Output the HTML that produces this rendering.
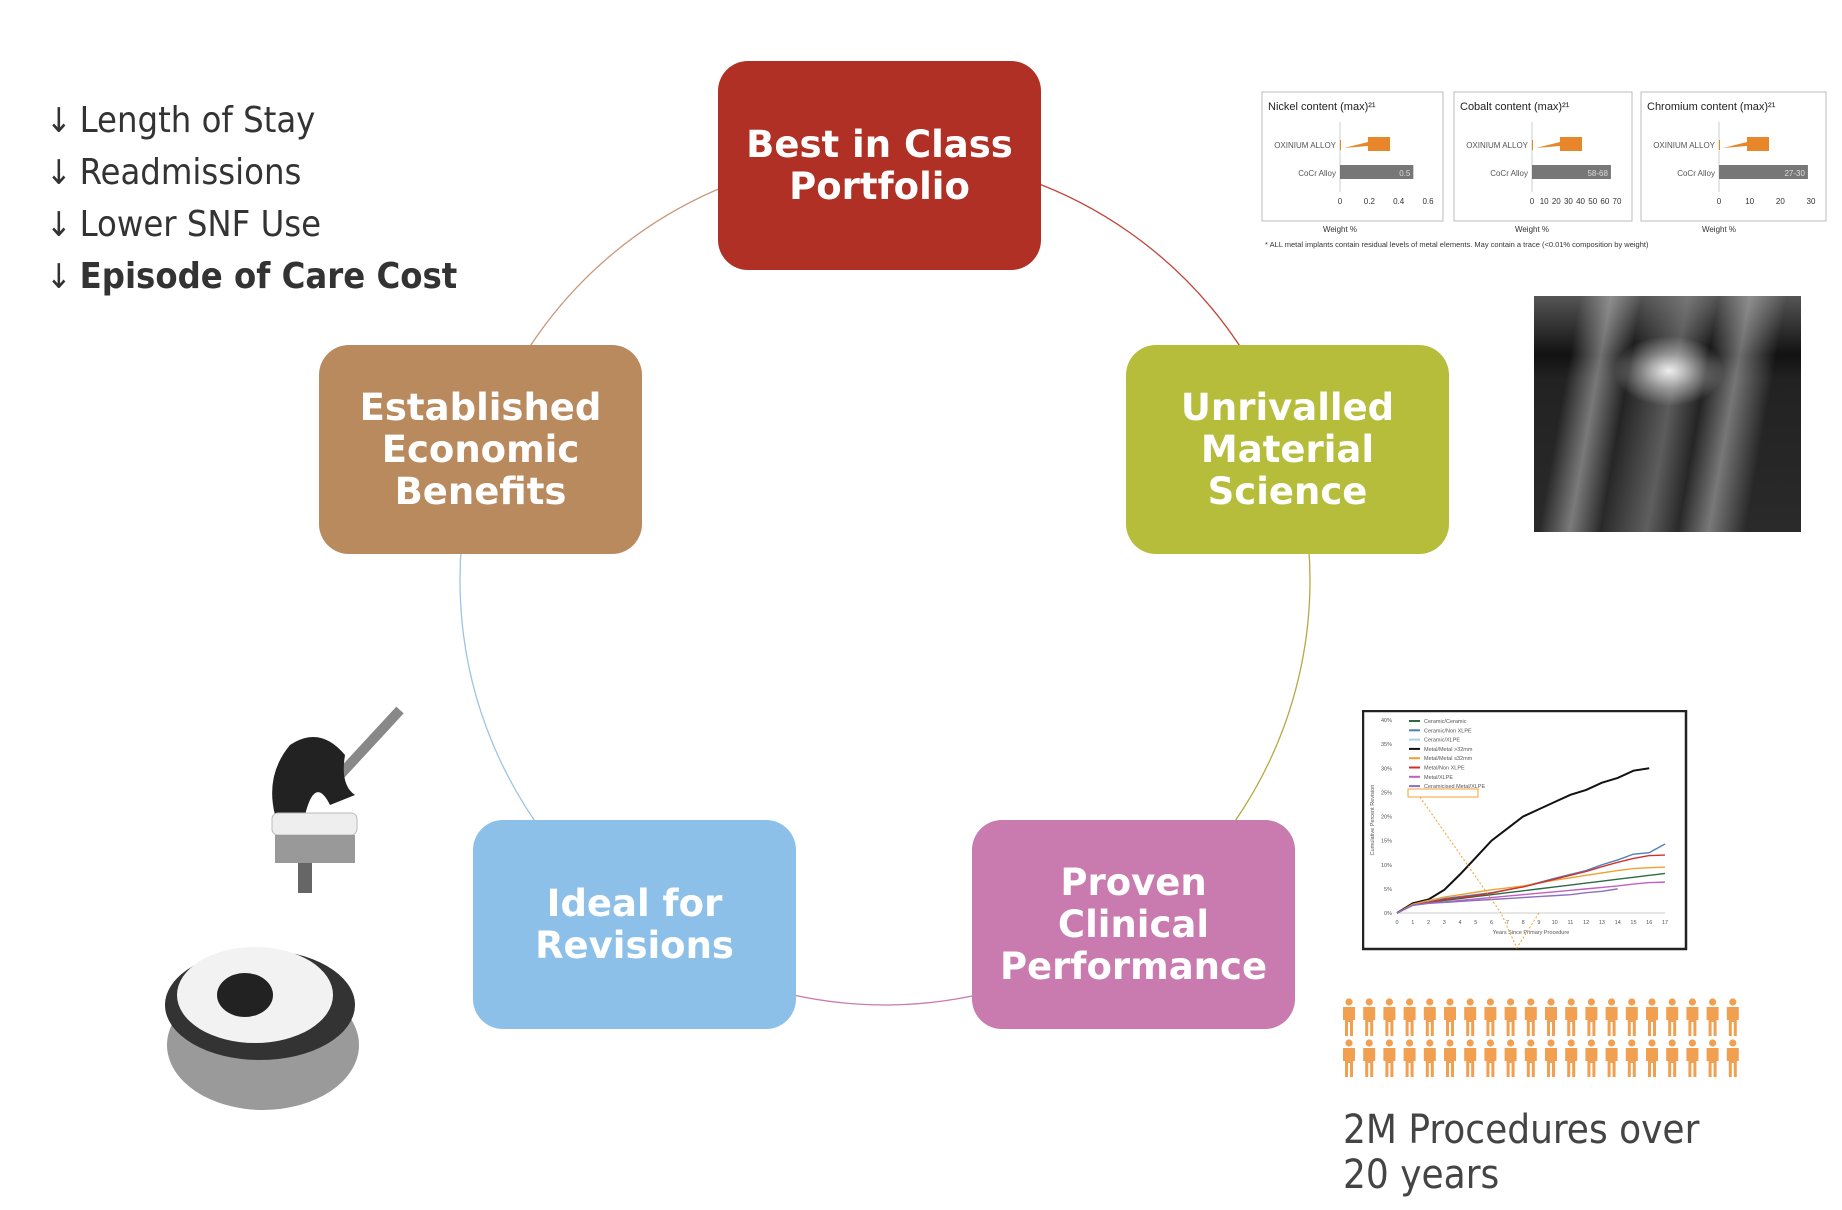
<!DOCTYPE html>
<html><head><meta charset="utf-8">
<style>
html,body{margin:0;padding:0;background:#fff;}
body{width:1842px;height:1210px;position:relative;overflow:hidden;font-family:"Liberation Sans",sans-serif;}
.box{position:absolute;width:323px;height:209px;border-radius:30px;display:flex;align-items:center;justify-content:center;text-align:center;color:#fff;font-family:"DejaVu Sans",sans-serif;font-weight:bold;font-size:37px;line-height:42px;}
.li{position:absolute;left:46px;font-family:"DejaVu Sans Condensed","DejaVu Sans",sans-serif;font-size:36px;color:#333;white-space:nowrap;}
.li span{font-size:34px;margin-right:8px;}
</style></head><body>
<svg id="ring" style="position:absolute;left:0;top:0" width="1842" height="1210"></svg>

<div class="li" style="top:100px"><span>↓</span>Length of Stay</div>
<div class="li" style="top:152px"><span>↓</span>Readmissions</div>
<div class="li" style="top:204px"><span>↓</span>Lower SNF Use</div>
<div class="li" style="top:256px;font-weight:bold;"><span style="font-weight:normal">↓</span>Episode of Care Cost</div>

<div class="box" style="left:718px;top:61px;background:#b03025;">Best in Class<br>Portfolio</div>
<div class="box" style="left:319px;top:345px;background:#b98a5e;">Established<br>Economic<br>Benefits</div>
<div class="box" style="left:1126px;top:345px;background:#b5bd3b;">Unrivalled<br>Material<br>Science</div>
<div class="box" style="left:473px;top:820px;background:#8dc0e8;">Ideal for<br>Revisions</div>
<div class="box" style="left:972px;top:820px;background:#c97aae;">Proven<br>Clinical<br>Performance</div>

<svg id="bars" style="position:absolute;left:1253px;top:85px" width="589" height="170"></svg>

<div style="position:absolute;left:1534px;top:296px;width:267px;height:236px;background:radial-gradient(ellipse 55px 35px at 135px 75px,#eee,rgba(220,220,220,0.5) 50%,transparent),linear-gradient(100deg,transparent 15%,rgba(190,190,190,0.55) 25%,transparent 35%,rgba(160,160,160,0.45) 50%,transparent 60%,rgba(200,200,200,0.5) 70%,transparent 82%),linear-gradient(#555,#111 25%,#222 35%,#2a2a2a);"></div>

<svg id="km" style="position:absolute;left:1362px;top:710px" width="326" height="242"></svg>

<svg id="people" style="position:absolute;left:1338px;top:998px" width="410" height="85"></svg>

<div style="position:absolute;left:1343px;top:1108px;font-family:'DejaVu Sans Condensed','DejaVu Sans',sans-serif;font-size:40px;line-height:45px;color:#444;">2M Procedures over<br>20 years</div>

<svg style="position:absolute;left:260px;top:705px" width="145" height="195">
<line x1="80" y1="70" x2="140" y2="5" stroke="#888" stroke-width="10"/>
<path d="M30 40 Q60 20 85 50 Q80 80 95 90 L70 100 Q55 70 45 110 L15 110 Q5 70 30 40Z" fill="#222"/>
<rect x="12" y="108" width="85" height="22" rx="6" fill="#eee" stroke="#bbb"/>
<rect x="15" y="130" width="80" height="28" fill="#999"/>
<rect x="38" y="158" width="14" height="30" fill="#666"/>
</svg>
<svg style="position:absolute;left:160px;top:935px" width="205" height="180">
<ellipse cx="103" cy="110" rx="96" ry="65" fill="#9a9a9a"/>
<ellipse cx="100" cy="70" rx="95" ry="55" fill="#333"/>
<ellipse cx="95" cy="60" rx="78" ry="48" fill="#f2f2f2"/>
<ellipse cx="85" cy="60" rx="28" ry="22" fill="#222"/>
</svg>

<script>
const NS="http://www.w3.org/2000/svg";
function mk(p,t,a){const e=document.createElementNS(NS,t);for(const k in a)e.setAttribute(k,a[k]);p.appendChild(e);return e;}
const ring=document.getElementById('ring');
const cx=885,cy=580,r=425;
const arcs=[[-150,-95,'#c8987a'],[-85,-25,'#c0443a'],[-5,70,'#b8a845'],[75,105,'#c97aae'],[110,200,'#9cc4e4']];
arcs.forEach(a=>{const s=a[0]*Math.PI/180,e=a[1]*Math.PI/180;
const p=mk(ring,'path',{d:`M${cx+r*Math.cos(s)} ${cy+r*Math.sin(s)} A${r} ${r} 0 0 1 ${cx+r*Math.cos(e)} ${cy+r*Math.sin(e)}`,fill:'none',stroke:a[2],'stroke-width':1.3});

});

const metals=["Nickel content (max)²¹","Cobalt content (max)²¹","Chromium content (max)²¹"];
const cocrValues=[0.5,65,29];
const cocrLabels=["0.5","58-68","27-30"];
const oxValues=[0.005,0.5,0.2];
const axisMax=[0.6,70,30];
const tickLabels=[["0","0.2","0.4","0.6"],["0","10","20","30","40","50","60","70"],["0","10","20","30"]];
const bars=document.getElementById('bars');
const px=[9,201,388],pw=[181,178,185];
metals.forEach((m,i)=>{
 const g=mk(bars,'g',{transform:`translate(${px[i]},7)`});
 
 
 mk(g,'rect',{x:0,y:0,width:pw[i],height:129,fill:'#fff',stroke:'#bbb'});
 mk(g,'text',{x:6,y:18,'font-size':11,fill:'#222'}).textContent=m;
 const x0=78,w=pw[i]-x0-15;
 const sx=v=>x0+v/axisMax[i]*w;
 mk(g,'line',{x1:x0,y1:30,x2:x0,y2:100,stroke:'#ccc'});
 mk(g,'text',{x:x0-4,y:56,'font-size':8,fill:'#555','text-anchor':'end'}).textContent="OXINIUM ALLOY";
 mk(g,'text',{x:x0-4,y:84,'font-size':8,fill:'#555','text-anchor':'end'}).textContent="CoCr Alloy";
 const ob=mk(g,'rect',{x:x0,y:48,width:Math.max(1,sx(oxValues[i])-x0),height:10,fill:'#e8862a'});
 
 mk(g,'path',{d:`M${x0+4} 56 L${x0+28} 50 L${x0+28} 54Z`,fill:'#e8862a'});
 mk(g,'rect',{x:x0+28,y:45,width:22,height:14,fill:'#e8862a'});
 const cb=mk(g,'rect',{x:x0,y:73,width:sx(cocrValues[i])-x0,height:14,fill:'#777'});
 
 mk(g,'text',{x:sx(cocrValues[i])-3,y:84,'font-size':8,fill:'#ddd','text-anchor':'end'}).textContent=cocrLabels[i];
 tickLabels[i].forEach(t=>{mk(g,'text',{x:sx(parseFloat(t)),y:112,'font-size':8,fill:'#333','text-anchor':'middle'}).textContent=t;});
 mk(g,'text',{x:x0,y:140,'font-size':8,fill:'#333','text-anchor':'middle'}).textContent="Weight %";
});
mk(bars,'text',{x:12,y:162,'font-size':7.5,fill:'#333'}).textContent="* ALL metal implants contain residual levels of metal elements.  May contain a trace (<0.01% composition by weight)";

const years=[0,1,2,3,4,5,6,7,8,9,10,11,12,13,14,15,16,17];
const sMetalLarge=[0,2,2.8,4.8,8,11.5,15,17.5,20,21.5,23,24.5,25.5,27,28,29.5,30,null];
const sCerNonXlpe=[0,1.8,2.3,3,3.4,3.8,4.2,4.8,5.5,6.3,7.2,8,8.8,10,11,12.2,12.5,14.3];
const sMetalNonXlpe=[0,1.6,2.2,2.8,3.2,3.6,4.1,4.8,5.4,6.2,7,7.8,8.6,9.6,10.5,11.3,11.9,12];
const sMetalSmall=[0,1.8,2.6,3.3,3.8,4.3,4.8,5.2,5.6,6.2,6.8,7.3,7.8,8.3,8.8,9.2,9.4,9.5];
const sCerCer=[0,1.7,2.2,2.6,3,3.4,3.8,4.2,4.6,5,5.4,5.8,6.2,6.6,7,7.4,7.8,8.2];
const sMetalXlpe=[0,1.6,2,2.3,2.6,2.9,3.2,3.5,3.8,4.1,4.4,4.7,5,5.3,5.6,6,6.3,6.4];
const sCeramicised=[0,1.6,2,2.2,2.4,2.6,2.8,3,3.2,3.4,3.6,3.8,4.2,4.5,5,null,null,null];
const seriesList=[[sCerCer,'#2e6b44','Ceramic/Ceramic'],[sCerNonXlpe,'#4f7fb8','Ceramic/Non XLPE'],[null,'#aad0f0','Ceramic/XLPE'],[sMetalLarge,'#111','Metal/Metal >32mm'],[sMetalSmall,'#f0a030','Metal/Metal ≤32mm'],[sMetalNonXlpe,'#d03030','Metal/Non XLPE'],[sMetalXlpe,'#c060c0','Metal/XLPE'],[sCeramicised,'#8a70c0','Ceramicised Metal/XLPE']];
const yTicks=["0%","5%","10%","15%","20%","25%","30%","35%","40%"];
const km=document.getElementById('km');
mk(km,'rect',{x:1,y:1,width:323,height:238,fill:'#fff',stroke:'#222','stroke-width':2.5});
const X=v=>35+v/17*268, Y=v=>203-v/40*193;
yTicks.forEach((t,i)=>{mk(km,'text',{x:30,y:Y(i*5)+2,'font-size':5.5,fill:'#555','text-anchor':'end'}).textContent=t;});
mk(km,'line',{x1:X(0),y1:Y(0),x2:X(17),y2:Y(0),stroke:'#999','stroke-width':0.6});
years.forEach(y=>{mk(km,'text',{x:X(y),y:214,'font-size':5.5,fill:'#555','text-anchor':'middle'}).textContent=y;});
mk(km,'text',{x:X(8.5),y:224,'font-size':5.5,fill:'#555','text-anchor':'middle'}).textContent="Years Since Primary Procedure";
mk(km,'text',{x:12,y:110,'font-size':5.5,fill:'#555','text-anchor':'middle',transform:'rotate(-90 12 110)'}).textContent="Cumulative Percent Revision";
seriesList.forEach((s,i)=>{
 mk(km,'line',{x1:47,y1:11+i*9.3,x2:58,y2:11+i*9.3,stroke:s[1],'stroke-width':2});
 mk(km,'text',{x:62,y:13+i*9.3,'font-size':5.5,fill:'#555'}).textContent=s[2];
 if(!s[0])return;
 const pts=years.filter((y,j)=>s[0][j]!==null).map(y=>X(y)+','+Y(s[0][years.indexOf(y)])).join(' ');
 const pl=mk(km,'polyline',{points:pts,fill:'none',stroke:s[1],'stroke-width':i==3?2:1.4});
 
 
});
mk(km,'rect',{x:46,y:79,width:70,height:8,fill:'none',stroke:'#f0a030','stroke-width':1});
mk(km,'path',{d:`M58 87 L${X(6.6)} ${Y(0)} M${X(9)} ${Y(0)} L${X(7.6)} 238 L${X(6.6)} ${Y(0)}`,fill:'none',stroke:'#f0a030','stroke-width':1,'stroke-dasharray':'2 2'});

const people=document.getElementById('people');
for(let row=0;row<2;row++)for(let c=0;c<20;c++){
 const g=mk(people,'g',{transform:`translate(${c*20.2+3},${row*41})`,fill:'#f0a050'});
 
 
 mk(g,'circle',{cx:8,cy:4,r:3.6});
 mk(g,'path',{d:'M2 9 H14 V22 H12 V38 H9 V24 H7 V38 H4 V22 H2Z'});
}
</script>
</body></html>
